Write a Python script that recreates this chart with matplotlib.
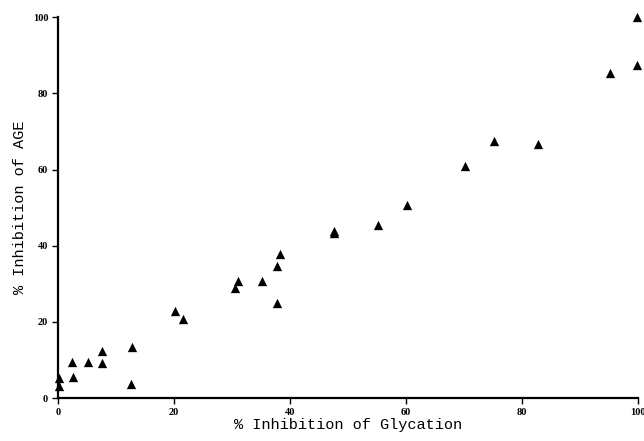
import matplotlib
matplotlib.use("Agg")
import matplotlib.pyplot as plt

glycation = [0.2, 0.2, 2.5, 2.6, 5.1, 7.6, 7.6, 12.7, 12.6, 20.2, 21.6,
             30.5, 31.1, 35.2, 37.7, 38.2, 37.7, 47.6, 47.6, 55.1, 60.1,
             70.2, 75.1, 82.8, 95.2, 99.8, 99.8]
age = [5.3, 3.2, 9.5, 5.6, 9.4, 12.3, 9.1, 13.5, 3.6, 22.9, 20.7,
       28.8, 30.8, 30.8, 34.7, 37.8, 24.9, 43.2, 43.9, 45.4, 50.8,
       61.0, 67.5, 66.8, 85.4, 87.4, 100.0]
ticks = [0, 20, 40, 60, 80, 100]

fig = plt.figure(figsize=(6.44, 4.41), dpi=100)
ax = fig.add_axes([0.090, 0.0975, 0.901, 0.8635])
ax.scatter(glycation, age, marker='^', s=45, color='black', clip_on=False, zorder=3, linewidths=0)
ax.set_xlim(0, 100)
ax.set_ylim(0, 100)
ax.set_xticks(ticks)
ax.set_yticks(ticks)
for s in ['top', 'right']:
    ax.spines[s].set_visible(False)
for s in ['left', 'bottom']:
    ax.spines[s].set_linewidth(1.6)
ax.tick_params(length=4, width=1, pad=3)
for lab in ax.get_xticklabels() + ax.get_yticklabels():
    lab.set_fontfamily('Liberation Serif')
    lab.set_fontweight('bold')
    lab.set_fontsize(7.5)
ax.set_xlabel('% Inhibition of Glycation', family='Liberation Mono', fontsize=11, labelpad=1)
ax.set_ylabel('% Inhibition of AGE', family='Liberation Mono', fontsize=11, labelpad=4)
fig.savefig('out.png', dpi=100)
